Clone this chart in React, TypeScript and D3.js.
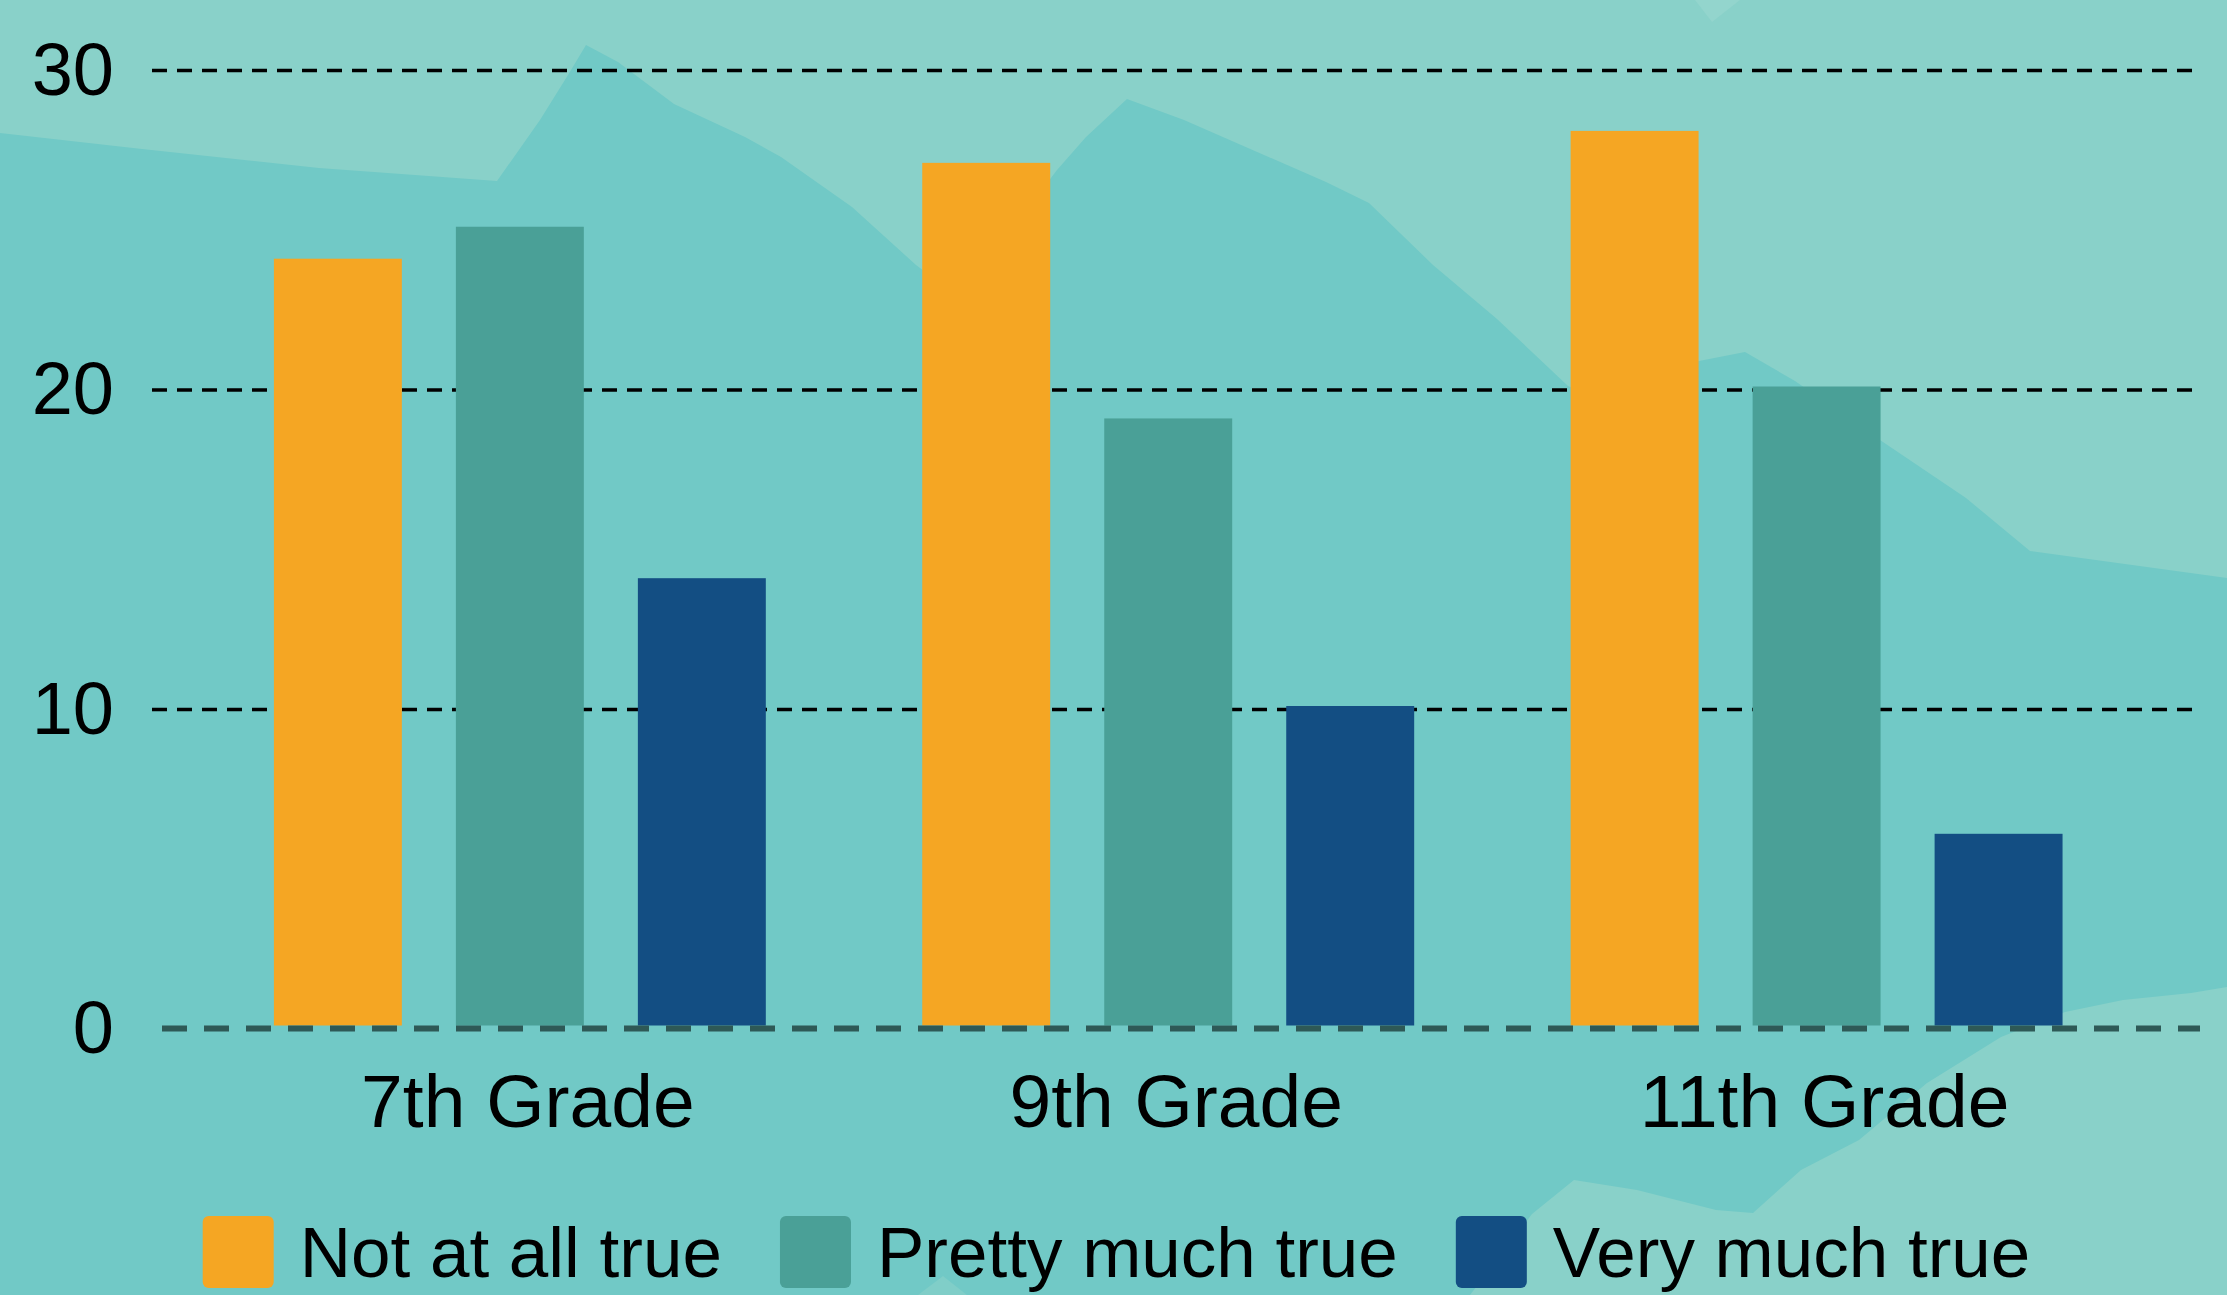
import React, { useEffect, useRef } from "react";
import * as d3 from "d3";

// ---- data ----
const categories = ["7th Grade", "9th Grade", "11th Grade"];
const seriesNames = ["Not at all true", "Pretty much true", "Very much true"];
const notAtAllTrue = [24, 27, 28];
const prettyMuchTrue = [25, 19, 20];
const veryMuchTrue = [14, 10, 6];
const yTicks = [0, 10, 20, 30];
const seriesColors = ["#f5a623", "#4aa097", "#134e83"];

// ---- decorative background (mountain shapes) ----
const bgUpper: [number, number][] = [
  [0, 133], [142, 149], [319, 168], [497, 181], [540, 120], [568, 75], [586, 45],
  [618, 62], [674, 104], [745, 137], [781, 157], [852, 207], [916, 265], [960, 298],
  [1057, 170], [1086, 137], [1127, 99], [1184, 120], [1326, 182], [1369, 203],
  [1433, 265], [1497, 319], [1568, 386], [1600, 400], [1699, 361], [1745, 352],
  [1795, 381], [1880, 440], [1966, 498], [2030, 551], [2227, 578],
];
const bgLower: [number, number][] = [
  [2227, 987], [2191, 993], [2123, 1000], [2065, 1012], [2001, 1037], [1927, 1083],
  [1859, 1140], [1801, 1170], [1753, 1213], [1716, 1210], [1637, 1190], [1574, 1180],
  [1532, 1214], [1470, 1295],
];
const bgTopNotch: [number, number][] = [[1695, 0], [1712, 22], [1740, 0]];
const bgBottomBump: [number, number][] = [[918, 1295], [943, 1276], [967, 1295]];

const W = 2227;
const H = 1295;
const FONT = "'Liberation Sans', Arial, Helvetica, sans-serif";

export default function App() {
  const ref = useRef<SVGSVGElement | null>(null);

  useEffect(() => {
    const svg = d3.select(ref.current);
    svg.selectAll("*").remove();

    const seriesValues = [notAtAllTrue, prettyMuchTrue, veryMuchTrue];

    // background
    svg.append("rect").attr("width", W).attr("height", H).attr("fill", "#89d1c9");
    const darkPoly = [...bgUpper, ...bgLower, [0, H] as [number, number]];
    svg.append("polygon").attr("points", darkPoly.map((p) => p.join(",")).join(" ")).attr("fill", "#71c9c6");
    svg.append("polygon").attr("points", bgTopNotch.map((p) => p.join(",")).join(" ")).attr("fill", "#93d5cd");
    svg.append("polygon").attr("points", bgBottomBump.map((p) => p.join(",")).join(" ")).attr("fill", "#80cec8");

    const plotL = 152;
    const plotR = 2200;

    const y = d3.scaleLinear().domain([0, 30]).range([1029, 70.5]);
    const x0 = d3.scaleBand<string>().domain(categories).range([plotL, plotR])
      .paddingInner(0.2413).paddingOuter(0.2).align(0.47);
    const x1 = d3.scaleBand<string>().domain(seriesNames).range([0, x0.bandwidth()])
      .paddingInner(0.297).paddingOuter(0);

    // gridlines
    svg.append("g").selectAll("line").data(yTicks.filter((t) => t > 0)).join("line")
      .attr("x1", plotL).attr("x2", plotR)
      .attr("y1", (d) => y(d)).attr("y2", (d) => y(d))
      .attr("stroke", "#000").attr("stroke-width", 3.5).attr("stroke-dasharray", "15 10");

    // y tick labels
    svg.append("g").selectAll("text").data(yTicks).join("text")
      .attr("x", 114).attr("y", (d) => y(d) + 24)
      .attr("text-anchor", "end")
      .attr("font-family", FONT).attr("font-size", 74).attr("fill", "#000")
      .text((d) => String(d));

    // bars
    const barsG = svg.append("g").attr("transform", "translate(0,-3.5)");
    categories.forEach((cat, ci) => {
      seriesNames.forEach((s, si) => {
        const v = seriesValues[si][ci];
        barsG.append("rect")
          .attr("x", (x0(cat) as number) + (x1(s) as number))
          .attr("y", y(v))
          .attr("width", x1.bandwidth())
          .attr("height", y(0) - y(v))
          .attr("fill", seriesColors[si]);
      });
    });

    // zero baseline (dashed)
    svg.append("line")
      .attr("x1", 162).attr("x2", plotR)
      .attr("y1", y(0) - 0.5).attr("y2", y(0) - 0.5)
      .attr("stroke", "#2e5956").attr("stroke-width", 6).attr("stroke-dasharray", "25 17");

    // category labels
    svg.append("g").selectAll("text").data(categories).join("text")
      .attr("x", (d) => (x0(d) as number) + x0.bandwidth() / 2 + 8)
      .attr("y", 1127)
      .attr("text-anchor", "middle")
      .attr("font-family", FONT).attr("font-size", 75).attr("fill", "#000")
      .text((d) => d);

    // legend
    const legend = svg.append("g");
    const sq = 71;
    const textGap = 26;
    const itemGap = 58;
    const items = seriesNames.map((name, i) => {
      const g = legend.append("g");
      g.append("rect").attr("width", sq).attr("height", sq + 1).attr("rx", 6)
        .attr("y", 1216).attr("fill", seriesColors[i]);
      const t = g.append("text").attr("x", sq + textGap).attr("y", 1277)
        .attr("font-family", FONT).attr("font-size", 71).attr("fill", "#000").text(name);
      const w = (t.node() as SVGTextElement).getComputedTextLength();
      return { g, w: sq + textGap + w };
    });
    const total = items.reduce((a, it) => a + it.w, 0) + itemGap * (items.length - 1);
    let cx = (W - total) / 2 + 3;
    items.forEach((it) => {
      it.g.attr("transform", `translate(${cx},0)`);
      cx += it.w + itemGap;
    });
  }, []);

  return (
    <svg
      ref={ref}
      width={W}
      height={H}
      style={{ position: "absolute", left: 0, top: 0, display: "block" }}
    />
  );
}
